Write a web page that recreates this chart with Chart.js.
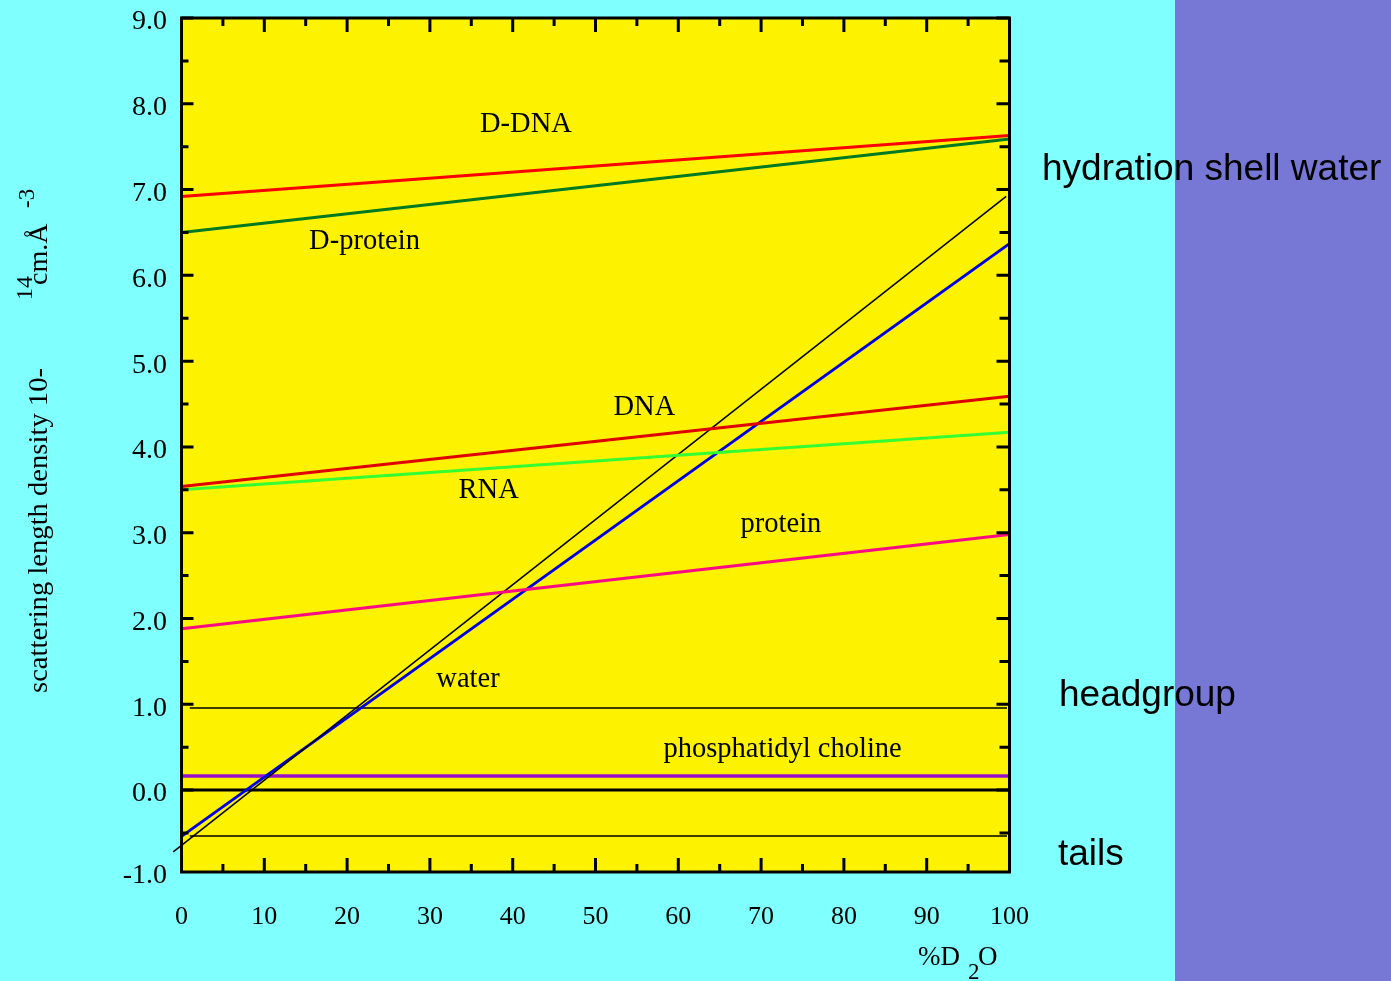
<!DOCTYPE html>
<html><head><meta charset="utf-8">
<script src="https://cdn.jsdelivr.net/npm/chart.js@4"></script>
<style>html,body{margin:0;padding:0;background:#80ffff;overflow:hidden}canvas{display:block}</style>
</head><body>
<canvas id="c" width="1391" height="981"></canvas>
<script>
// ---- data ----
const xEnds = [0, 100];
const dDNA = [6.92, 7.63];
const dProtein = [6.50, 7.59];
const dna = [3.54, 4.59];
const rna = [3.50, 4.17];
const protein = [1.88, 2.98];
const water = [-0.54, 6.37];
const shellX = [-1, 99.6];
const shellWater = [-0.72, 6.92];
const pcX = [0, 100];
const pc = [0.165, 0.165];
const zeroX = [0, 100];
const zero = [0, 0];
const layerX = [1, 99.7];
const headgroup = [0.956, 0.956];
const tails = [-0.536, -0.536];
const xTickValues = [0, 10, 20, 30, 40, 50, 60, 70, 80, 90, 100];
const xTickLabels = ['0', '10', '20', '30', '40', '50', '60', '70', '80', '90', '100'];
const yTickValues = [-1, 0, 1, 2, 3, 4, 5, 6, 7, 8, 9];
const yTickLabels = ['-1.0', '0.0', '1.0', '2.0', '3.0', '4.0', '5.0', '6.0', '7.0', '8.0', '9.0'];
const curveLabels = ['D-DNA', 'D-protein', 'DNA', 'RNA', 'protein', 'water', 'phosphatidyl choline'];
const sideLabels = ['hydration shell water', 'headgroup', 'tails'];

const Y_MIN = -0.955, Y_MAX = 9;
const SERIF = '"Liberation Serif", "Times New Roman", serif';
const SANS = '"Liberation Sans", Arial, sans-serif';

function pts(xs, ys) { return xs.map((x, i) => ({x: x, y: ys[i]})); }
function ds(xs, ys, color, w, extra) {
  return Object.assign({data: pts(xs, ys), borderColor: color, borderWidth: w, pointRadius: 0, tension: 0, fill: false}, extra || {});
}

const decor = {
  id: 'decor',
  beforeDraw(chart) {
    const ctx = chart.ctx, a = chart.chartArea;
    ctx.save();
    ctx.fillStyle = '#80ffff';
    ctx.fillRect(0, 0, chart.width, chart.height);
    ctx.fillStyle = '#7777d6';
    ctx.fillRect(1175, 0, chart.width - 1175, chart.height);
    ctx.fillStyle = '#fdf200';
    ctx.fillRect(a.left, a.top, a.right - a.left, a.bottom - a.top);
    ctx.restore();
  },
  afterDatasetsDraw(chart) {
    const ctx = chart.ctx, a = chart.chartArea;
    const xs = chart.scales.x, ys = chart.scales.y;
    ctx.save();
    ctx.strokeStyle = '#000';
    ctx.lineWidth = 3;
    ctx.strokeRect(a.left, a.top, a.right - a.left, a.bottom - a.top);
    ctx.beginPath();
    for (let v = -0.5; v <= 9; v += 0.5) {
      const py = ys.getPixelForValue(v);
      const major = Math.abs(v - Math.round(v)) < 1e-6;
      ctx.moveTo(a.left, py); ctx.lineTo(a.left + (major ? 12 : 7), py);
      ctx.moveTo(a.right, py); ctx.lineTo(a.right - (major ? 13 : 10), py);
    }
    for (let v = 5; v < 100; v += 5) {
      const px = xs.getPixelForValue(v);
      const major = v % 10 === 0;
      const L = major ? 14 : 8;
      ctx.moveTo(px, a.bottom); ctx.lineTo(px, a.bottom - L);
      ctx.moveTo(px, a.top); ctx.lineTo(px, a.top + L);
    }
    ctx.stroke();

    ctx.fillStyle = '#000';
    ctx.font = '28.5px ' + SERIF;
    ctx.textAlign = 'center';
    ctx.textBaseline = 'alphabetic';
    const pos = [[41.6, 7.67], [22.1, 6.305], [55.9, 4.37], [37.1, 3.40], [72.4, 3.01], [34.6, 1.20], [72.6, 0.385]];
    curveLabels.forEach((t, i) => {
      ctx.fillText(t, xs.getPixelForValue(pos[i][0]), ys.getPixelForValue(pos[i][1]));
    });

    ctx.font = '37px ' + SANS;
    ctx.textAlign = 'left';
    ctx.fillText(sideLabels[0], 1042, 180);
    ctx.fillText(sideLabels[1], 1059, 706);
    ctx.fillText(sideLabels[2], 1058, 865);

    ctx.font = '27px ' + SERIF;
    ctx.fillText('%D', 918, 965);
    ctx.font = '23px ' + SERIF;
    ctx.fillText('2', 968, 979);
    ctx.font = '27px ' + SERIF;
    ctx.fillText('O', 978, 965);

    function rot(text, x, y, font, width) {
      ctx.save();
      ctx.translate(x, y);
      ctx.rotate(-Math.PI / 2);
      ctx.font = font;
      if (width) { const w = ctx.measureText(text).width; ctx.scale(width / w, 1); }
      ctx.fillText(text, 0, 0);
      ctx.restore();
    }
    rot('scattering length density 10-', 47, 693, '28px ' + SERIF, 325);
    rot('14', 32, 300, '24px ' + SERIF);
    rot('cm.\u00C5', 47, 285, '28px ' + SERIF);
    rot('-3', 34, 208, '23px ' + SERIF);
    ctx.restore();
  }
};

new Chart(document.getElementById('c'), {
  type: 'line',
  data: {
    datasets: [
      ds(xEnds, dDNA, '#ff0000', 3),
      ds(xEnds, dProtein, '#007a22', 3),
      ds(xEnds, dna, '#e00000', 3),
      ds(xEnds, rna, '#33ff33', 3),
      ds(xEnds, protein, '#ff0a84', 3),
      ds(shellX, shellWater, '#000000', 1.5, {clip: false}),
      ds(xEnds, water, '#0000e6', 3),
      ds(pcX, pc, '#9a10c8', 3.5),
      ds(zeroX, zero, '#000000', 3),
      ds(layerX, headgroup, '#000000', 1.5),
      ds(layerX, tails, '#000000', 1.5)
    ]
  },
  options: {
    responsive: false,
    animation: false,
    devicePixelRatio: 1,
    layout: {padding: {top: 18, right: 381.5, left: 0, bottom: 0}},
    plugins: {legend: {display: false}, tooltip: {enabled: false}},
    scales: {
      x: {
        type: 'linear', min: 0, max: 100,
        grid: {display: false, drawTicks: false}, border: {display: false},
        afterFit(s) { s.height = 109; s.paddingLeft = 0; s.paddingRight = 0; },
        afterBuildTicks(s) { s.ticks = xTickValues.map(v => ({value: v})); },
        ticks: {
          color: '#000', padding: 30, maxRotation: 0, autoSkip: false,
          font: {family: SERIF, size: 26},
          callback: (v, i) => xTickLabels[i]
        }
      },
      y: {
        type: 'linear', min: Y_MIN, max: Y_MAX,
        grid: {display: false, drawTicks: false}, border: {display: false},
        afterFit(s) { s.width = 181.5; s.paddingTop = 0; s.paddingBottom = 0; },
        afterBuildTicks(s) { s.ticks = yTickValues.map(v => ({value: Math.max(v, Y_MIN)})); },
        ticks: {
          color: '#000', padding: 14.5, autoSkip: false, labelOffset: 4,
          font: {family: SERIF, size: 28},
          callback: (v, i) => yTickLabels[i]
        }
      }
    }
  },
  plugins: [decor]
});
</script>
</body></html>
